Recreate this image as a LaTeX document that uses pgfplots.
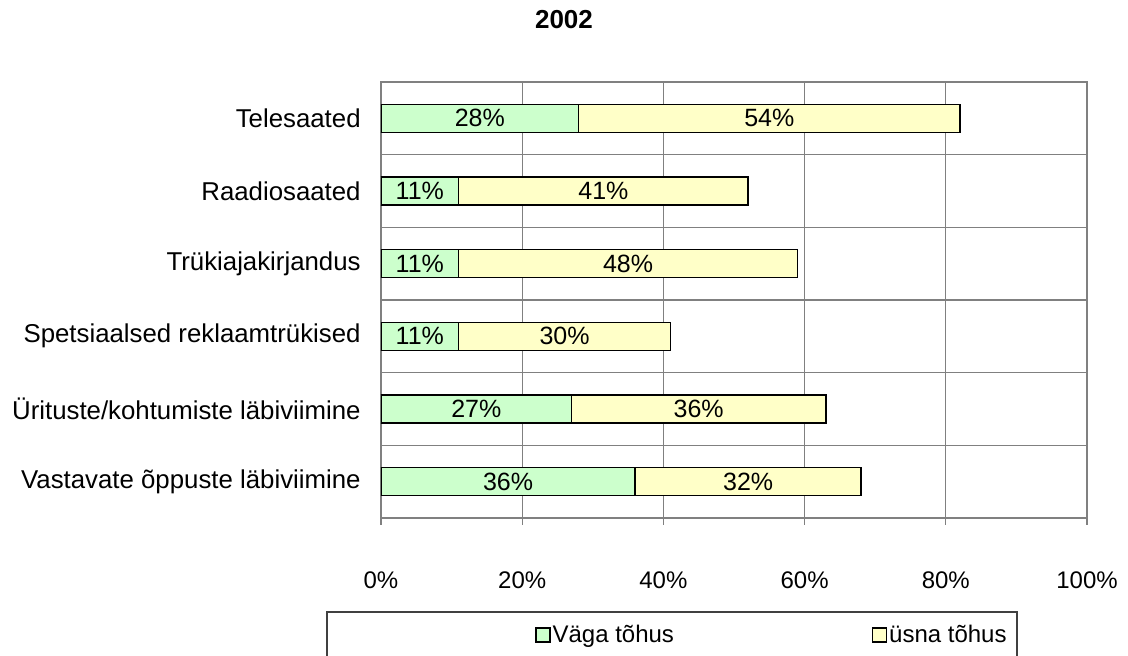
\documentclass[border=0pt]{standalone}
\usepackage{pgfplots}
\pgfplotsset{compat=1.18}
\usepackage{pgfplotstable}
\usepackage{fontspec}
\setmainfont{Liberation Sans}
\definecolor{cgreen}{HTML}{CCFFCC}
\definecolor{cyellow}{HTML}{FFFFC8}
\definecolor{cgrid}{HTML}{808080}
\pgfplotstableread{
y a b
5 28 54
4 11 41
3 11 48
2 11 30
1 27 36
0 36 32
}\data
\begin{document}
\begin{tikzpicture}
\useasboundingbox (-190.5pt,-69pt) rectangle (373.5pt,259pt);
\begin{axis}[
  scale only axis, width=353pt, height=218pt,
  xbar stacked, bar width=14pt,
  xmin=0, xmax=100, ymin=-0.5, ymax=5.5,
  xtick={0,20,40,60,80,100},
  xticklabels={0\%,20\%,40\%,60\%,80\%,100\%},
  ytick={0,1,2,3,4,5},
  yticklabels={Vastavate õppuste läbiviimine,Ürituste/kohtumiste läbiviimine,Spetsiaalsed reklaamtrükised,Trükiajakirjandus,Raadiosaated,Telesaated},
  minor ytick={0.5,1.5,2.5,3.5,4.5},
  xmajorgrids, yminorgrids,
  grid style={cgrid, line width=0.6pt},
  minor grid style={cgrid, line width=0.6pt},
  axis line style={cgrid, line width=0.8pt},
  tick style={cgrid, line width=0.6pt},
  ytick style={draw=none},
  minor tick length=0pt,
  xtick pos=lower,
  xtick align=outside, major tick length=3.5pt,
  xticklabel style={font=\fontsize{12}{14}\selectfont, inner sep=0pt, yshift=-23pt},
  yticklabel style={font=\fontsize{12.9}{15}\selectfont, inner sep=0pt, xshift=-10pt},
  legend columns=2,
  legend style={at={(axis description cs:0.2181,-0.2683)}, anchor=west,
    draw=none, fill=none, inner sep=0pt,
    font=\fontsize{12}{14}\selectfont,
    nodes={inner sep=1pt},
    /tikz/every even column/.append style={column sep=98pt}},
]
\addplot[fill=cgreen, draw=black, line width=0.8pt,
  legend image code/.code={\draw[fill=cgreen, draw=black, line width=0.6pt] (0pt,-3.5pt) rectangle (7pt,3.5pt);}]
  table[x=a, y=y] {\data};
\addlegendentry{Väga tõhus}
\addplot[fill=cyellow, draw=black, line width=0.8pt,
  legend image code/.code={\draw[fill=cyellow, draw=black, line width=0.6pt] (0pt,-3.5pt) rectangle (7pt,3.5pt);}]
  table[x=b, y=y] {\data};
\addlegendentry{üsna tõhus}
\end{axis}
\begin{axis}[
  scale only axis, width=353pt, height=218pt,
  xmin=0, xmax=100, ymin=-0.5, ymax=5.5,
  hide axis,
]
\addplot[draw=none, mark=none, point meta=explicit symbolic,
  nodes near coords={\pgfplotspointmeta\%},
  every node near coord/.append style={anchor=center, inner sep=0pt, font=\fontsize{12.5}{15}\selectfont}]
  table[x expr=\thisrow{a}/2, y=y, meta=a] {\data};
\addplot[draw=none, mark=none, point meta=explicit symbolic,
  nodes near coords={\pgfplotspointmeta\%},
  every node near coord/.append style={anchor=center, inner sep=0pt, font=\fontsize{12.5}{15}\selectfont}]
  table[x expr=\thisrow{a}+\thisrow{b}/2, y=y, meta=b] {\data};
\end{axis}
\draw[black!75, line width=0.8pt] (-27pt,-47pt) rectangle (318pt,-85pt);
\node[font=\fontsize{13}{15}\selectfont\bfseries] at (91.5pt,249pt) {2002};
\end{tikzpicture}
\end{document}
